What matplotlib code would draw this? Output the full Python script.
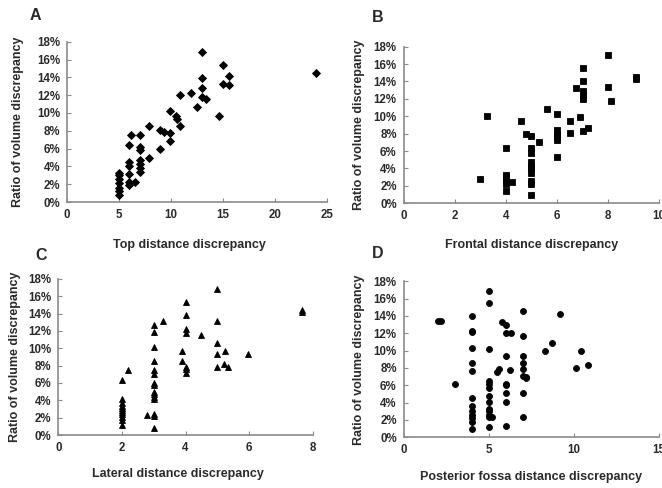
import matplotlib
matplotlib.use("Agg")
import matplotlib.pyplot as plt

plt.rcParams['font.family'] = ['Liberation Sans', 'DejaVu Sans']

# ---------------- data (percent units) ----------------
A_x = [5, 5, 5, 5, 5, 5, 5, 6, 6, 6, 6, 6, 6, 6.5, 6.2, 7, 7, 7, 7, 7, 7, 7,
       7.9, 7.9, 8.9, 8.9, 9.3, 9.9, 9.9, 9.9, 10.5, 10.6, 10.9, 10.9, 11.9,
       12.5, 12.95, 12.95, 12.95, 12.95, 13.4, 14.6, 15, 15, 15.6, 15.6, 23.9]
A_y = [3.3, 3.0, 2.6, 2.1, 1.6, 1.2, 0.8, 6.4, 4.5, 4.1, 3.1, 2.3, 1.9, 2.3, 7.5,
       7.5, 6.2, 5.8, 4.7, 4.3, 3.8, 3.4, 8.5, 5.0, 8.1, 6.0, 7.9, 10.2, 7.7, 6.8,
       9.7, 9.3, 12.0, 8.5, 12.2, 10.7, 16.8, 13.9, 12.8, 11.8, 11.6, 9.7, 15.4,
       13.2, 14.2, 13.1, 14.5]

B_x = [3.0, 3.25, 4, 4, 4, 4, 4, 4, 4.25, 4.6, 4.8, 5.0, 5.3, 5, 5, 5, 5, 5, 5,
       5, 5, 5, 5.6, 6, 6, 6, 6, 6, 6, 6.5, 6.5, 6.75, 6.9, 7, 7, 7, 7, 7, 7.0,
       7.2, 8, 8, 8.1, 9.1, 9.1]
B_y = [2.8, 10.0, 6.4, 3.3, 3.0, 2.6, 2.2, 1.4, 2.4, 9.4, 8.0, 7.7, 7.1, 6.3,
       5.8, 4.8, 4.3, 4.0, 3.5, 2.6, 2.2, 0.9, 10.8, 10.3, 8.4, 8.0, 7.6, 7.3,
       5.3, 9.5, 8.1, 13.3, 9.9, 15.5, 14.0, 12.9, 12.5, 12.0, 8.3, 8.7, 17.0,
       13.4, 11.7, 14.5, 14.3]

C_x = [2, 2, 2, 2, 2, 2, 2, 2, 2, 2, 2, 2.2, 2.8,
       3, 3, 3, 3, 3, 3, 3, 3, 3, 3, 3, 3, 3, 3, 3,
       3.3, 3.9, 3.9, 4, 4, 4, 4, 4, 4, 4, 4.5, 5, 5, 5, 5, 5,
       5.25, 5.2, 5.35, 5.95, 7.65, 7.65]
C_y = [6.4, 4.1, 3.7, 3.4, 3.1, 2.9, 2.6, 2.4, 2.1, 1.7, 1.2, 7.5, 2.3,
       12.7, 11.9, 10.1, 8.5, 7.5, 7.0, 6.0, 5.8, 5.0, 4.7, 4.4, 4.2, 2.4, 2.2, 0.8,
       13.1, 9.7, 8.5, 15.4, 13.8, 12.2, 11.8, 7.8, 7.6, 7.1, 11.5,
       16.8, 13.2, 10.6, 9.4, 7.9, 9.7, 8.2, 7.9, 9.35, 14.4, 14.2]

D_x = [2.0, 2.2, 3.0,
       4, 4, 4, 4, 4, 4, 4, 4, 4, 4, 4, 4, 4,
       5, 5, 5, 5, 5, 5, 5, 5, 5, 5, 5, 5, 5,
       5.2, 5.5, 5.6, 5.75, 6.0,
       6, 6, 6, 6, 6, 6, 6, 6.3, 6.25,
       7, 7, 7, 7, 7, 7, 7, 7, 7.2, 7.2,
       8.3, 8.7, 9.2, 10.1, 10.4, 10.8]
D_y = [13.4, 13.4, 6.2,
       14.0, 12.3, 12.1, 10.3, 8.6, 7.6, 4.5, 3.6, 3.0, 2.6, 2.2, 1.8, 0.9,
       16.9, 15.5, 10.2, 6.5, 6.2, 5.7, 4.8, 4.1, 3.3, 3.0, 2.6, 2.3, 1.2,
       2.3, 7.5, 7.9, 13.3, 12.9,
       12.0, 9.4, 6.1, 6.0, 5.1, 4.1, 1.3, 12.0, 7.8,
       14.6, 11.7, 9.4, 8.6, 7.9, 7.1, 5.1, 2.3, 7.0, 6.8,
       9.9, 10.9, 14.2, 8.0, 9.9, 8.3]

y_ticks = [0, 2, 4, 6, 8, 10, 12, 14, 16, 18]
y_labels = [f"{v}%" for v in y_ticks]

panels = [
    dict(letter="A", x=A_x, y=A_y, xlabel="Top distance discrepancy",
         xticks=[0, 5, 10, 15, 20, 25], marker="D", ms=3.9,
         rect=[0.1012, 0.586, 0.3927, 0.3285], ylab=(-0.165, 0.5), xlab=(0.47, -0.23),
         let=(35, 15)),
    dict(letter="B", x=B_x, y=B_y, xlabel="Frontal distance discrepancy",
         xticks=[0, 2, 4, 6, 8, 10], marker="s", ms=3.7,
         rect=[0.6098, 0.5834, 0.386, 0.321], ylab=(-0.151, 0.5), xlab=(0.5, -0.228),
         let=(378, 17)),
    dict(letter="C", x=C_x, y=C_y, xlabel="Lateral distance discrepancy",
         xticks=[0, 2, 4, 6, 8], marker="^", ms=4.7,
         rect=[0.0881, 0.1086, 0.3843, 0.3197], ylab=(-0.147, 0.5), xlab=(0.47, -0.21),
         let=(41, 256)),
    dict(letter="D", x=D_x, y=D_y, xlabel="Posterior fossa distance discrepancy",
         xticks=[0, 5, 10, 15], marker="o", ms=4.3,
         rect=[0.6098, 0.1039, 0.386, 0.3197], ylab=(-0.151, 0.5), xlab=(0.5, -0.216),
         let=(378, 254)),
]

W, H = 662, 488
fig = plt.figure(figsize=(W / 100, H / 100), dpi=100)
fig.patch.set_facecolor("white")

spine_c = "#8a8a8a"
text_c = "#2a2a2a"

for p in panels:
    ax = fig.add_axes(p["rect"])
    ax.plot(p["x"], p["y"], linestyle="none", marker=p["marker"], ms=p["ms"],
            color="black", markeredgewidth=0.6)
    ax.set_xlim(p["xticks"][0], p["xticks"][-1])
    ax.set_ylim(0, 18)
    ax.set_xticks(p["xticks"])
    ax.set_xticklabels([str(t) for t in p["xticks"]])
    ax.set_yticks(y_ticks)
    ax.set_yticklabels(y_labels)
    for s in ("top", "right"):
        ax.spines[s].set_visible(False)
    for s in ("left", "bottom"):
        ax.spines[s].set_color(spine_c)
        ax.spines[s].set_linewidth(1.2)
    ax.tick_params(direction="in", length=3, width=0.8, color=spine_c,
                   labelsize=8.3, labelcolor=text_c, pad=5)
    for lab in ax.get_xticklabels() + ax.get_yticklabels():
        lab.set_fontweight("bold")
    ax.set_xlabel(p["xlabel"], fontsize=9, fontweight="bold", color=text_c)
    ax.set_ylabel("Ratio of volume discrepancy", fontsize=9, fontweight="bold",
                  color=text_c)
    ax.xaxis.set_label_coords(*p["xlab"])
    ax.yaxis.set_label_coords(*p["ylab"])
    lx, ly = p["let"]
    fig.text(lx / W, 1 - ly / H, p["letter"], fontsize=11.5, fontweight="bold",
             color=text_c, ha="center", va="center")

fig.savefig("out.png", dpi=100, facecolor="white")
